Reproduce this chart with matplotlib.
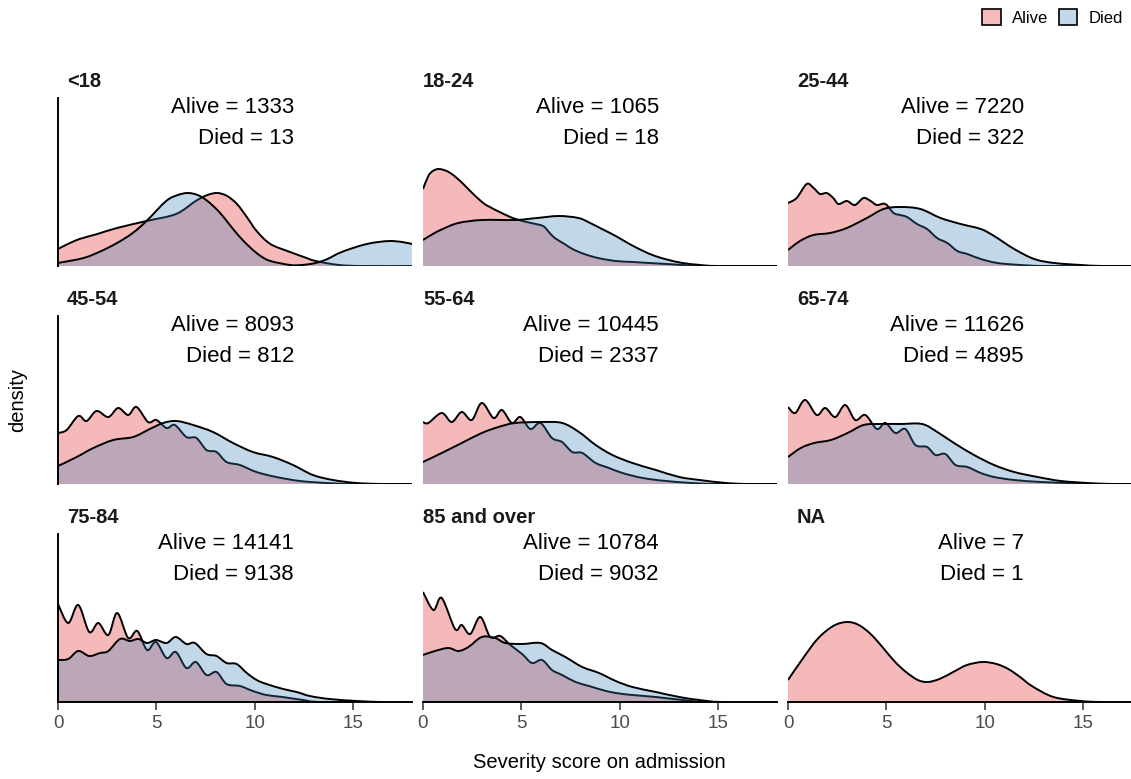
import matplotlib
matplotlib.use("Agg")
import matplotlib.pyplot as plt
import numpy as np
from matplotlib.path import Path
from matplotlib.patches import PathPatch, Patch

plt.rcParams['font.family'] = ['Liberation Sans', 'DejaVu Sans']

# density curves: (severity score, relative density)
alive_lt18 = [(0, 17), (0.5, 22), (1.1, 27), (2.0, 32), (3.0, 38), (4.5, 45), (6.0, 52), (7.0, 65),
              (7.6, 71), (8.1, 73), (8.6, 70), (9.1, 62), (9.6, 49), (10.1, 35), (10.8, 22),
              (11.8, 14), (12.5, 9), (13.1, 5), (14.3, 1), (15.5, 0), (18, 0)]
died_lt18 = [(0, 3), (1.3, 8), (2.2, 15), (3.0, 23), (3.8, 33), (4.5, 45), (5.5, 65), (6.1, 71),
             (6.6, 73), (7.1, 71), (7.6, 65), (8.2, 54), (8.7, 42), (9.2, 30), (9.8, 18), (10.3, 10),
             (10.8, 5), (11.8, 1), (12.4, 1), (13.1, 3), (13.7, 7), (14.3, 13), (15.0, 18),
             (15.7, 22), (16.3, 24), (16.9, 25), (17.5, 24), (18, 22)]

alive_18_24 = [(0, 77), (0.27, 90), (0.5, 95), (0.8, 97), (1.2, 95), (1.6, 90), (2.1, 81), (2.5, 73),
               (3.0, 64), (3.3, 60), (4.0, 53), (4.7, 47), (5.5, 43), (6.1, 40), (6.4, 34), (6.7, 28),
               (7.2, 22), (7.6, 17), (8.2, 12), (8.9, 8), (9.8, 5), (10.7, 4), (11.5, 3), (12.4, 2),
               (13.2, 1), (14.1, 0), (18, 0)]
died_18_24 = [(0, 26), (0.5, 32), (1.0, 37), (1.8, 43), (3.0, 46), (4.7, 46), (5.8, 48), (6.9, 50),
              (7.9, 48), (8.5, 43), (9.1, 37), (9.8, 30), (10.5, 22), (11.2, 15), (11.8, 10),
              (12.5, 6), (13.2, 3), (14.1, 1), (15, 0), (18, 0)]

alive_25_44 = [(0, 63), (0.44, 68), (0.95, 82), (1.3, 78), (1.63, 72), (1.97, 73), (2.3, 68),
               (2.57, 62), (2.99, 65), (3.4, 61), (3.84, 68), (4.2, 65), (4.52, 61), (4.95, 62),
               (5.37, 53), (5.7, 51), (6.05, 49), (6.56, 42), (7.07, 37), (7.58, 28), (8.1, 23),
               (8.61, 15), (9.12, 12), (9.8, 7), (10.65, 3), (11.84, 1), (13.2, 0), (18, 0)]
died_25_44 = [(0, 16), (0.61, 25), (1.29, 31), (2.14, 33), (2.99, 38), (4.01, 48), (4.86, 57),
              (5.71, 59), (6.73, 57), (7.76, 48), (8.78, 42), (9.8, 37), (10.48, 30), (11.5, 17),
              (12.52, 7), (13.54, 3), (14.9, 1), (16, 0), (18, 0)]

alive_45_54 = [(0, 51), (0.44, 54), (1.03, 68), (1.45, 63), (1.96, 73), (2.56, 67), (3.06, 76),
               (3.57, 69), (3.99, 77), (4.58, 62), (5.0, 64), (5.52, 56), (5.94, 59), (6.53, 47),
               (7.04, 46), (7.55, 34), (8.06, 32), (8.57, 22), (9.25, 19), (10.09, 12), (11.1, 7),
               (12.3, 3), (13.66, 1), (15, 0), (18, 0)]
died_45_54 = [(0, 18), (0.95, 27), (1.8, 36), (2.81, 44), (3.82, 47), (4.67, 55), (5.35, 61),
              (6.02, 63), (6.87, 59), (7.88, 52), (8.9, 41), (9.91, 32), (10.93, 27), (11.95, 19),
              (12.96, 9), (13.98, 4), (15.17, 1), (16.5, 0), (18, 0)]

alive_55_64 = [(0, 62), (0.27, 61), (0.95, 71), (1.46, 62), (1.97, 72), (2.48, 64), (2.99, 81),
               (3.59, 66), (4.01, 74), (4.52, 61), (4.95, 67), (5.46, 55), (5.97, 61), (6.56, 46),
               (7.07, 42), (7.59, 32), (8.1, 31), (8.78, 21), (9.46, 16), (10.14, 11), (11.17, 6),
               (12.36, 3), (13.7, 1), (15, 0), (18, 0)]
died_55_64 = [(0, 22), (0.95, 31), (1.97, 41), (2.99, 51), (3.84, 57), (4.69, 61), (6.05, 62),
              (7.08, 61), (7.93, 52), (8.78, 39), (9.63, 29), (10.65, 21), (11.84, 14), (13.03, 7),
              (14.06, 4), (15.4, 1), (16.5, 0), (18, 0)]

alive_65_74 = [(0, 77), (0.37, 71), (0.87, 84), (1.46, 69), (1.89, 76), (2.4, 67), (2.91, 79),
               (3.42, 64), (3.93, 69), (4.52, 55), (4.95, 61), (5.46, 51), (5.97, 55), (6.48, 39),
               (7.07, 37), (7.5, 29), (8.0, 30), (8.52, 19), (9.12, 17), (9.8, 11), (10.48, 7),
               (11.5, 4), (12.86, 2), (14.2, 1), (15.5, 0), (18, 0)]
died_65_74 = [(0, 27), (0.65, 36), (1.33, 41), (2.18, 44), (3.03, 51), (3.84, 59), (4.69, 60),
              (5.71, 60), (6.82, 60), (7.59, 52), (8.44, 41), (9.46, 29), (10.48, 19), (11.5, 12),
              (12.69, 7), (13.88, 3), (15.25, 1), (16.5, 0), (18, 0)]

alive_75_84 = [(0, 98), (0.52, 79), (1.03, 97), (1.59, 70), (2.05, 79), (2.56, 67), (3.01, 89),
               (3.57, 64), (4.03, 71), (4.53, 52), (4.98, 60), (5.52, 44), (5.99, 50), (6.53, 34),
               (7.01, 40), (7.55, 27), (8.06, 30), (8.57, 18), (9.25, 16), (9.91, 11), (10.59, 7),
               (11.43, 5), (12.45, 2), (13.5, 0), (18, 0)]
died_75_84 = [(0, 42), (0.52, 43), (1.03, 51), (1.59, 46), (2.14, 49), (2.56, 51), (3.15, 63),
              (3.65, 61), (4.08, 63), (4.53, 59), (4.98, 62), (5.52, 59), (5.99, 65), (6.53, 58),
              (6.96, 59), (7.55, 48), (8.06, 46), (8.57, 39), (9.08, 38), (9.6, 29), (10.1, 22),
              (10.6, 18), (11.45, 13), (12.13, 10), (12.8, 6), (13.8, 3), (15.2, 1), (16.5, 0), (18, 0)]

alive_85 = [(0, 110), (0.53, 92), (0.95, 104), (1.63, 73), (1.97, 77), (2.4, 68), (2.91, 85),
            (3.42, 65), (3.93, 66), (4.44, 57), (5.04, 48), (5.54, 39), (6.05, 42), (6.56, 32),
            (7.07, 27), (7.76, 20), (8.44, 16), (9.12, 12), (9.8, 9), (10.65, 7), (11.84, 5),
            (13.2, 2), (14.5, 0), (18, 0)]
died_85 = [(0, 47), (0.61, 51), (1.29, 54), (1.8, 51), (2.31, 55), (2.99, 65), (3.67, 64),
           (4.18, 59), (5.03, 58), (5.97, 59), (6.56, 52), (7.24, 45), (8.1, 35), (8.95, 29),
           (9.8, 21), (10.65, 15), (11.84, 10), (13.03, 5), (14.05, 2), (15.2, 0), (18, 0)]

alive_na = [(0, 22), (0.7, 42), (1.5, 63), (2.3, 76), (3.0, 80), (3.6, 77), (4.2, 68), (4.8, 55),
            (5.4, 41), (6.0, 30), (6.6, 22), (7.1, 20), (7.7, 23), (8.4, 30), (9.1, 37),
            (9.9, 40), (10.6, 38), (11.2, 33), (11.8, 25), (12.4, 16), (13.5, 5), (14.9, 1),
            (16, 0), (18, 0)]

age_groups = ["<18", "18-24", "25-44", "45-54", "55-64", "65-74", "75-84", "85 and over", "NA"]
n_alive = [1333, 1065, 7220, 8093, 10445, 11626, 14141, 10784, 7]
n_died = [13, 18, 322, 812, 2337, 4895, 9138, 9032, 1]
alive_curves = [alive_lt18, alive_18_24, alive_25_44, alive_45_54, alive_55_64,
                alive_65_74, alive_75_84, alive_85, alive_na]
died_curves = [died_lt18, died_18_24, died_25_44, died_45_54, died_55_64,
               died_65_74, died_75_84, died_85, None]

col_alive = "#E41A1C"
col_died = "#377EB8"


def smooth(pts):
    # catmull-rom through the read points, as bezier segments
    P = np.array(pts, float)
    verts = [P[0]]
    codes = [Path.MOVETO]
    for i in range(len(P) - 1):
        p0 = P[i - 1] if i > 0 else P[i]
        p1, p2 = P[i], P[i + 1]
        p3 = P[i + 2] if i + 2 < len(P) else P[i + 1]
        verts += [p1 + (p2 - p0) / 6, p2 - (p3 - p1) / 6, p2]
        codes += [Path.CURVE4] * 3
    return verts, codes


def draw_density(ax, pts, color):
    verts, codes = smooth(pts)
    fv = verts + [(pts[-1][0], 0), (pts[0][0], 0), verts[0]]
    fc = codes + [Path.LINETO, Path.LINETO, Path.CLOSEPOLY]
    ax.add_patch(PathPatch(Path(fv, fc), facecolor=color, alpha=0.3, edgecolor="none"))
    ax.add_patch(PathPatch(Path(verts, codes), facecolor="none", edgecolor="black", lw=1.4))


W, H = 1131, 779
fig = plt.figure(figsize=(W / 100, H / 100), dpi=100)

lefts = [58, 423, 788]
tops = [98, 316, 534]
pw, ph = 354, 168

for i, grp in enumerate(age_groups):
    r, c = divmod(i, 3)
    ax = fig.add_axes([lefts[c] / W, 1 - (tops[r] + ph) / H, pw / W, ph / H])
    draw_density(ax, alive_curves[i], col_alive)
    if died_curves[i] is not None:
        draw_density(ax, died_curves[i], col_died)
    ax.set_xlim(0, 18)
    ax.set_ylim(0, 168)
    for s in ["top", "right"]:
        ax.spines[s].set_visible(False)
    ax.spines["left"].set_visible(c == 0)
    ax.spines["left"].set_linewidth(1.4)
    ax.spines["bottom"].set_visible(r == 2)
    ax.spines["bottom"].set_linewidth(1.4)
    ax.set_yticks([])
    if r == 2:
        ax.set_xticks([0, 5, 10, 15])
        ax.tick_params(axis="x", length=6, width=1.1, color="#333333",
                       labelsize=13.5, labelcolor="#4D4D4D", pad=3)
    else:
        ax.set_xticks([])
    ax.text(0.025 if c != 1 else 0.0, 1.1, grp, transform=ax.transAxes, fontsize=14.5,
            fontweight="bold", color="#1A1A1A", ha="left", va="center")
    ax.text(12, 0.946 * 168, f"Alive = {n_alive[i]}", fontsize=16, ha="right", va="center")
    ax.text(12, 0.756 * 168, f"Died = {n_died[i]}", fontsize=16, ha="right", va="center")

fig.text(599 / W, 1 - 763 / H, "Severity score on admission", fontsize=14.5, ha="center", va="center")
fig.text(18 / W, 1 - 400 / H, "density", fontsize=14.5, rotation=90, ha="center", va="center")

# legend keys: same fills as the curves (alpha 0.3 on white)
key_alive = (1 - 0.3) * np.ones(3) + 0.3 * np.array(matplotlib.colors.to_rgb(col_alive))
key_died = (1 - 0.3) * np.ones(3) + 0.3 * np.array(matplotlib.colors.to_rgb(col_died))
handles = [Patch(facecolor=key_alive, edgecolor="black", lw=1.2),
           Patch(facecolor=key_died, edgecolor="black", lw=1.2)]
fig.legend(handles, ["Alive", "Died"], loc="upper right", bbox_to_anchor=(1.004, 1.004),
           ncol=2, frameon=False, fontsize=12, handlelength=1.1, handleheight=1.1,
           handletextpad=0.7, columnspacing=0.6, borderaxespad=0.35)

plt.savefig("out.png", dpi=100)
